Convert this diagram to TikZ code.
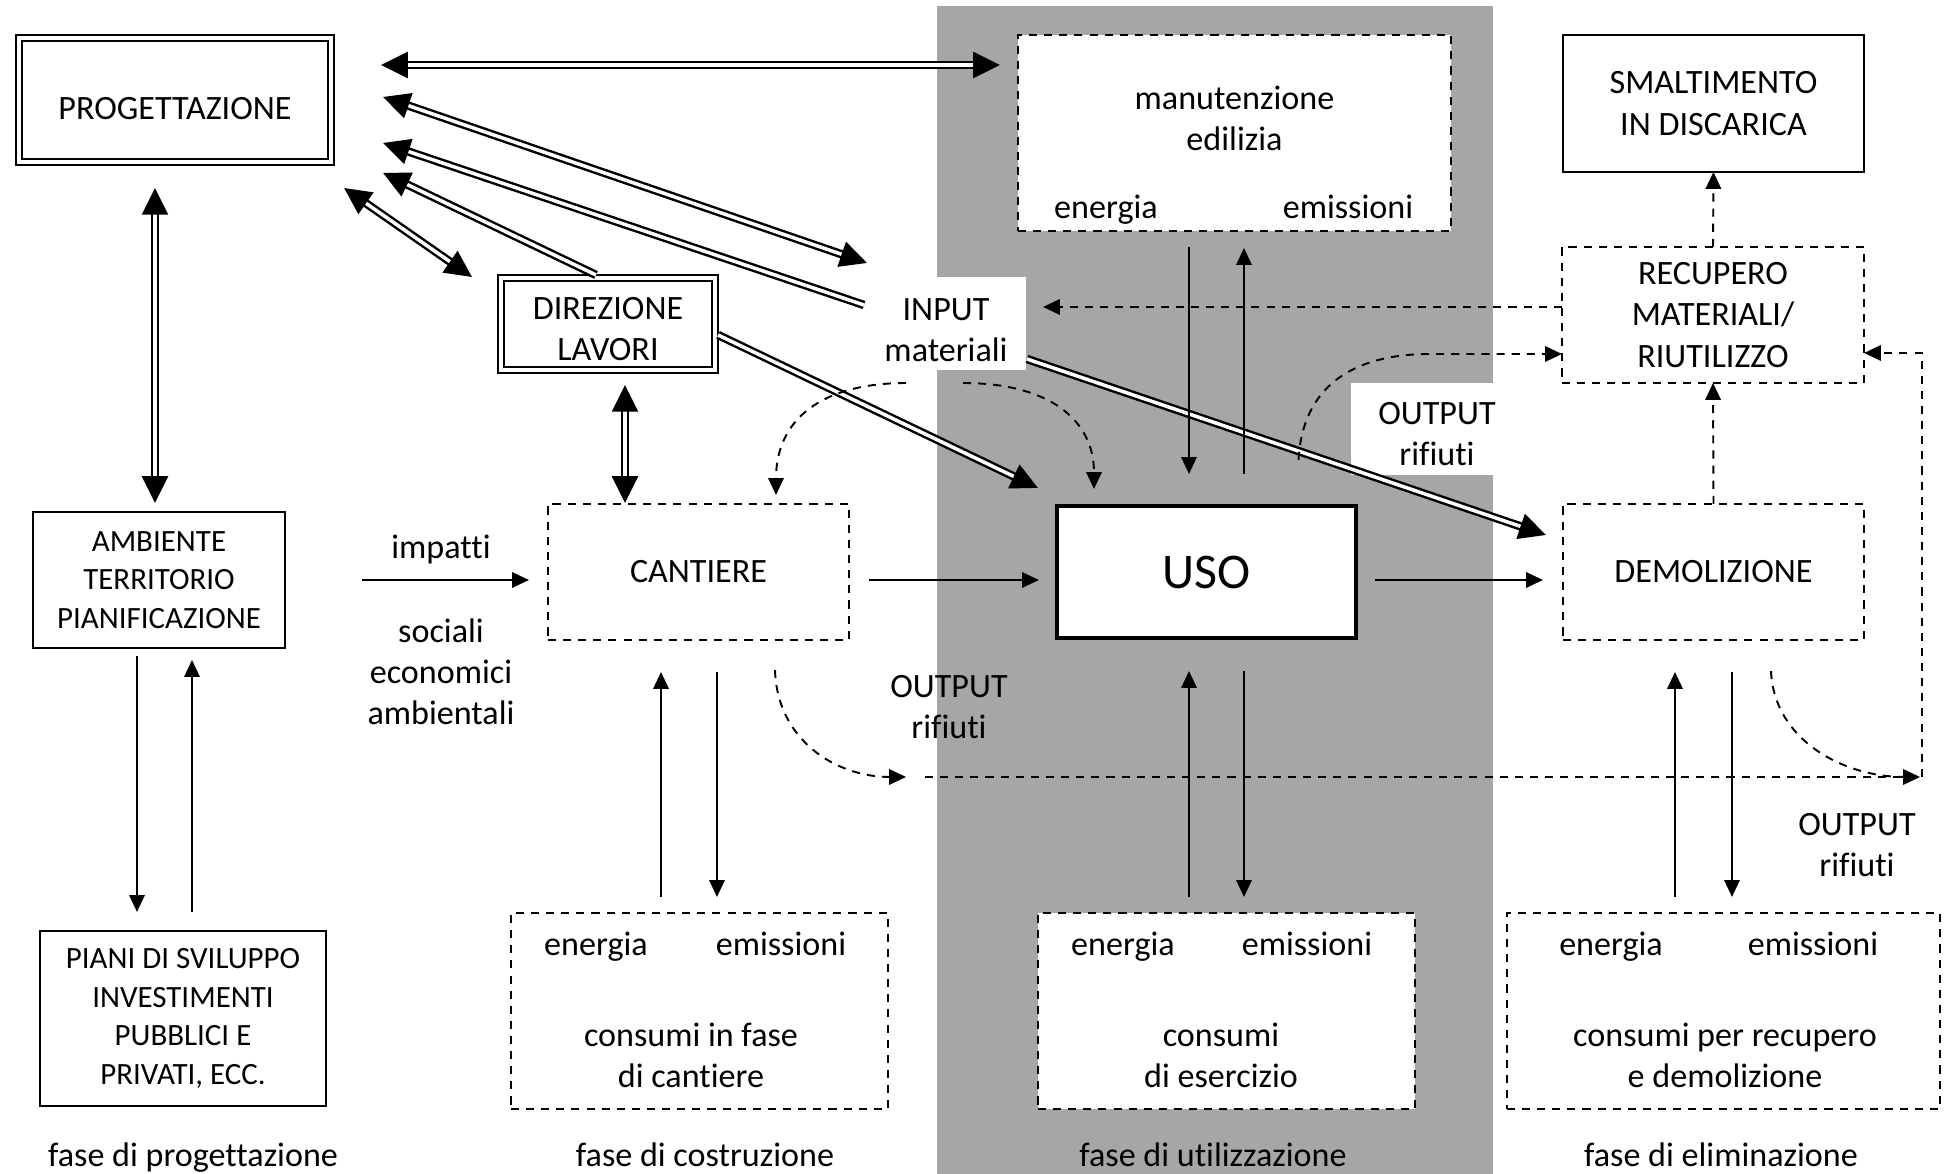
\documentclass[tikz,border=0pt]{standalone}
\usepackage{fontspec}
\setmainfont{Carlito}[Ligatures=NoCommon]
\usetikzlibrary{arrows.meta,calc}

\definecolor{bandgray}{HTML}{A6A6A6}
\newcommand{\fmain}{\fontsize{9.7pt}{11.7pt}\selectfont}
\newcommand{\fsmall}{\fontsize{8.8pt}{11pt}\selectfont}
\newcommand{\fbig}{\fontsize{14.2pt}{17pt}\selectfont}

\tikzset{
  BigT/.tip={Triangle[length=7.6pt,width=7.4pt]},
  SmT/.tip={Triangle[length=4.8pt,width=4.4pt]},
  box/.style={draw, line width=0.55pt, align=center, inner sep=0pt, outer sep=0pt, fill=white},
  dbox/.style={box, dash pattern=on 2.3pt off 2pt},
  dblbox/.style={draw, double, line width=0.6pt, double distance=1.15pt, align=center,
    inner sep=0pt, outer sep=0pt, fill=white},
  txt/.style={align=center, inner sep=0pt, outer sep=0pt},
  word/.style={txt, text height=7pt, text depth=2.1pt},
  thinarr/.style={line width=0.55pt, -SmT},
  dasharr/.style={thinarr, dash pattern=on 2.3pt off 2pt},
  dblarr/.style={double, line width=0.7pt, double distance=1pt},
}

\begin{document}
\begin{tikzpicture}[x=0.01cm, y=-0.01cm, font=\fmain]
\useasboundingbox (0,0) rectangle (1959,1174);

% fase di utilizzazione
\fill[bandgray] (937,6) rectangle (1493,1174);
\fill[white] (1351,383) rectangle (1493,475);

% boxes
\node[dblbox, minimum width=3.12cm, minimum height=1.24cm] (prog) at (175,100) {};
\node[box, minimum width=3.01cm, minimum height=1.37cm] (smalt) at (1713.5,103.5) {SMALTIMENTO\\IN DISCARICA};
\node[dbox, minimum width=4.33cm, minimum height=1.96cm] (manut) at (1234.5,133) {};
\node[dbox, minimum width=3.02cm, minimum height=1.36cm] (recup) at (1713,315) {RECUPERO\\MATERIALI/\\RIUTILIZZO};
\node[dblbox, minimum width=2.14cm, minimum height=0.92cm] (dirl) at (608,324) {};
\node[txt, fill=white, minimum width=1.66cm, minimum height=0.93cm] (input) at (943,323.5) {};
\node[box, font=\fsmall, minimum width=2.52cm, minimum height=1.36cm] (amb) at (159,580) {AMBIENTE\\TERRITORIO\\PIANIFICAZIONE};
\node[dbox, minimum width=3.01cm, minimum height=1.36cm] (cant) at (698.5,572) {CANTIERE};
\node[box, line width=1pt, font=\fbig, minimum width=2.99cm, minimum height=1.32cm] (uso) at (1206.5,572) {USO};
\node[dbox, minimum width=3.01cm, minimum height=1.36cm] (demo) at (1713.5,572) {DEMOLIZIONE};
\node[box, font=\fsmall, minimum width=2.86cm, minimum height=1.75cm] (piani) at (183,1018.5) {PIANI DI SVILUPPO\\INVESTIMENTI\\PUBBLICI E\\PRIVATI, ECC.};
\node[dbox, minimum width=3.77cm, minimum height=1.96cm] (ccant) at (699.5,1011) {};
\node[dbox, minimum width=3.77cm, minimum height=1.96cm] (cese) at (1226.5,1011) {};
\node[dbox, minimum width=4.33cm, minimum height=1.96cm] (cdem) at (1723.5,1011) {};

% texts
\node[word] (progtxt) at (175,111) {PROGETTAZIONE};
\node[txt] (dirltxt) at (608,329) {DIREZIONE\\LAVORI};
\node[txt] (inputtxt) at (946,330) {INPUT\\materiali};
\node[txt] (manuttxt) at (1234.5,118) {manutenzione\\edilizia};
\node[word] (manutene) at (1106,210) {energia};
\node[word] (manutemi) at (1348,210) {emissioni};
\node[word] (ccantene) at (596,947) {energia};
\node[word] (ccantemi) at (781,947) {emissioni};
\node[txt] (ccanttxt) at (691,1055) {consumi in fase\\di cantiere};
\node[word] (ceseene) at (1123,947) {energia};
\node[word] (ceseemi) at (1307,947) {emissioni};
\node[txt] (cesetxt) at (1221,1055) {consumi\\di esercizio};
\node[word] (cdemene) at (1611,947) {energia};
\node[word] (cdememi) at (1813,947) {emissioni};
\node[txt] (cdemtxt) at (1725,1055) {consumi per recupero\\e demolizione};
\node[word] (impatti) at (441,550) {impatti};
\node[txt] (sociali) at (441,672) {sociali\\economici\\ambientali};
\node[txt] (out1) at (949,707) {OUTPUT\\rifiuti};
\node[txt] (out2) at (1437,434) {OUTPUT\\rifiuti};
\node[txt] (out3) at (1857,845) {OUTPUT\\rifiuti};
\node[word] (faseprog) at (193,1158) {fase di progettazione};
\node[word] (fasecost) at (705,1158) {fase di costruzione};
\node[word] (faseutil) at (1213,1158) {fase di utilizzazione};
\node[word] (faseelim) at (1721,1158) {fase di eliminazione};

% double connectors
\draw[dblarr, BigT-BigT] ($(prog.east)+(50,-35)$) -- ($(manut.west)+(-18,-68)$);
\draw[dblarr, BigT-BigT] ($(prog.east)+(52,-3)$) -- ($(input.north west)+(7,-14)$);
\draw[dblarr, -BigT] ($(input.west)+(4,-18.5)$) -- ($(prog.east)+(52,43)$);
\draw[dblarr, -BigT] ($(dirl.north)+(-12,-3)$) -- ($(prog.east)+(52,73)$);
\draw[dblarr, BigT-BigT] ($(prog.south east)+(13,26)$) -- ($(dirl.north west)+(-29,-1)$);
\draw[dblarr, BigT-BigT] ($(prog.south)+(-20,26)$) -- ($(amb.north)+(-4,-9)$);
\draw[dblarr, BigT-BigT] ($(dirl.south)+(17,15)$) -- ($(cant.north)+(-73.5,-1)$);
\draw[dblarr, -BigT] ($(dirl.east)+(3,11)$) -- ($(uso.north west)+(-19,-18)$);
\draw[dblarr, -BigT] ($(input.south east)+(1,-11)$) -- ($(demo.west)+(-17,-37)$);

% main flow
\draw[thinarr] ($(amb.east)+(77,0)$) -- ($(cant.west)+(-19,8)$);
\draw[thinarr] ($(cant.east)+(20,8)$) -- ($(uso.west)+(-18,8)$);
\draw[thinarr] ($(uso.east)+(19,8)$) -- ($(demo.west)+(-20,8)$);

% energia / emissioni
\draw[thinarr] ($(manut.south)+(-45.5,16)$) -- ($(uso.north)+(-17.5,-32)$);
\draw[thinarr] ($(uso.north)+(37.5,-32)$) -- ($(manut.south)+(9.5,17)$);
\draw[thinarr] ($(ccant.north)+(-38.5,-16)$) -- ($(cant.south)+(-37.5,32)$);
\draw[thinarr] ($(cant.south)+(18.5,32)$) -- ($(ccant.north)+(17.5,-16)$);
\draw[thinarr] ($(cese.north)+(-37.5,-16)$) -- ($(uso.south)+(-17.5,33)$);
\draw[thinarr] ($(uso.south)+(37.5,33)$) -- ($(cese.north)+(17.5,-16)$);
\draw[thinarr] ($(cdem.north)+(-48.5,-16)$) -- ($(demo.south)+(-38.5,32)$);
\draw[thinarr] ($(demo.south)+(18.5,32)$) -- ($(cdem.north)+(8.5,-16)$);
\draw[thinarr] ($(amb.south)+(-22,8)$) -- ($(piani.north)+(-46,-19)$);
\draw[thinarr] ($(piani.north)+(9,-19)$) -- ($(amb.south)+(33,12)$);

% rifiuti / recupero
\coordinate (wastein) at (906,777);
\coordinate (wasteleft) at (925,777);
\coordinate (wasteright) at (1922,777);
\coordinate (wastetop) at (1922,353);
\draw[dasharr] (recup.north) -- (smalt.south);
\draw[dasharr] (demo.north) -- (recup.south);
\draw[dasharr] ($(recup.west)+(0,-8)$) -- ($(input.east)+(17,-16.5)$);
\draw[dasharr] ($(uso.north)+(92,-46)$) .. controls +(4,-75) and +(-75,0) .. ($(recup.west)+(-132,39)$) -- ($(recup.west)+(0,39)$);
\draw[dasharr] ($(input.south)+(-37,13)$) .. controls +(-85,0) and +(0,-75) .. ($(cant.north)+(77.5,-9)$);
\draw[dasharr] ($(input.south)+(20,13)$) .. controls +(85,0) and +(0,-70) .. ($(uso.north)+(-112.5,-17)$);
\draw[dasharr] ($(cant.south)+(76.5,30)$) .. controls +(2,70) and +(-70,0) .. (wastein);
\draw[dasharr, -] (wasteleft) -- ($(wasteright)+(-20,0)$);
\draw[dasharr] ($(demo.south)+(57.5,31)$) .. controls +(3,70) and +(-75,0) .. ($(wasteright)+(-2,0)$);
\draw[dasharr] (wasteright) -- (wastetop) -- ($(recup.east)+(0,38)$);
\end{tikzpicture}
\end{document}
